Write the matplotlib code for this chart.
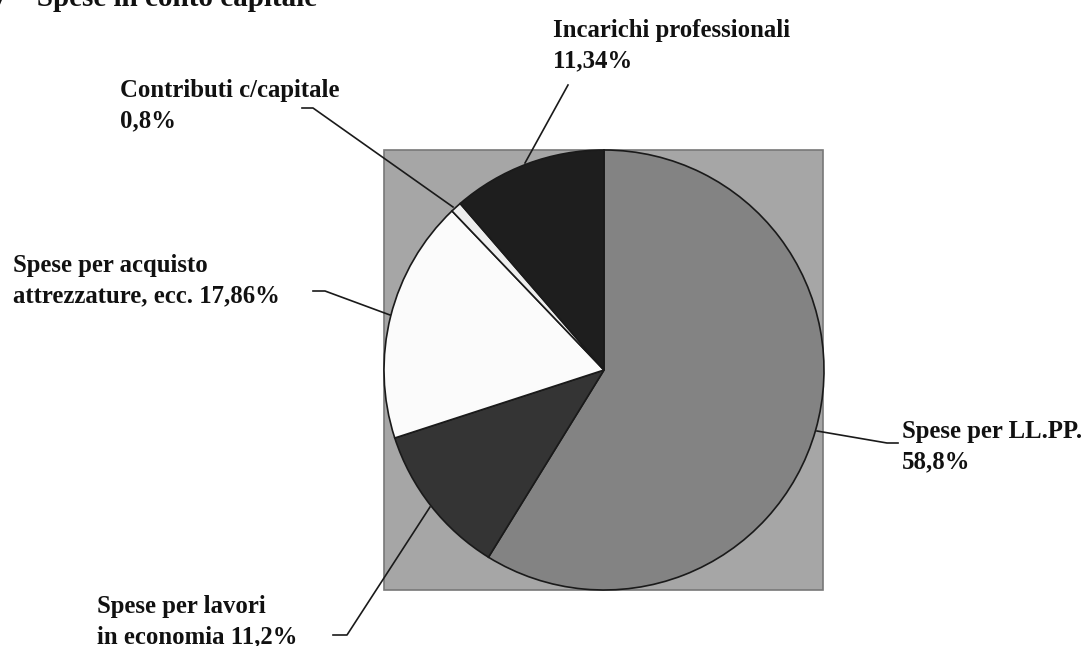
import matplotlib
matplotlib.use('Agg')
import matplotlib.pyplot as plt
from matplotlib.patches import Rectangle

# values of the pie (percent), clockwise from 12 o'clock
categories = ['Spese per LL.PP.', 'Spese per lavori in economia',
              'Spese per acquisto attrezzature, ecc.', 'Contributi c/capitale',
              'Incarichi professionali']
values = [58.8, 11.2, 17.86, 0.8, 11.34]
labels = ['Spese per LL.PP.\n58,8%',
          'Spese per lavori\nin economia 11,2%',
          'Spese per acquisto\nattrezzature, ecc. 17,86%',
          'Contributi c/capitale\n0,8%',
          'Incarichi professionali\n11,34%']
colors = ['#838383', '#343434', '#fbfbfb', '#eeeeee', '#1e1e1e']

W, H = 1086, 646
fig = plt.figure(figsize=(W / 100, H / 100), dpi=100)
ax = fig.add_axes([0, 0, 1, 1])

def py(y):
    # pixel row (from top) -> data y
    return H - y

# grey square behind the pie
ax.add_patch(Rectangle((384, py(590)), 439, 440, facecolor='#a6a6a6',
                       edgecolor='#787878', lw=1.2, zorder=0))

cx, cy, r = 604, 370, 220
ax.pie(values, colors=colors, startangle=90, counterclock=False,
       center=(cx, py(cy)), radius=r, frame=True,
       wedgeprops=dict(edgecolor='#1a1a1a', linewidth=1.2))
ax.set_xlim(0, W)
ax.set_ylim(0, H)
ax.set_aspect('equal')
ax.axis('off')

font = dict(family='Liberation Serif', weight='bold', size=17.8)

# label positions (left, baseline of last line) and leader lines, pixel coords
label_pos = [(902, 468), (97, 643), (13, 302), (120, 127), (553, 67)]
leaders = [
    [(817, 431), (887, 443), (898, 443)],
    [(430, 507), (347, 635), (333, 635)],
    [(390, 315), (325, 291), (313, 291)],
    [(453, 207), (313, 108), (302, 108)],
    [(525, 163), (568, 85)],
]

for lab, (x, y), pts in zip(labels, label_pos, leaders):
    ax.text(x, py(y), lab, ha='left', va='baseline', linespacing=1.37,
            color='#111111', **font)
    ax.plot([p[0] for p in pts], [py(p[1]) for p in pts],
            color='#1a1a1a', lw=1.2, zorder=5)

# title, cut off at the top edge in the source
ax.text(-7, py(6), '7 \u2013 Spese in conto capitale', ha='left', va='baseline',
        family='Liberation Serif', weight='bold', size=21, color='#111111')

fig.savefig('out.png', dpi=100)
